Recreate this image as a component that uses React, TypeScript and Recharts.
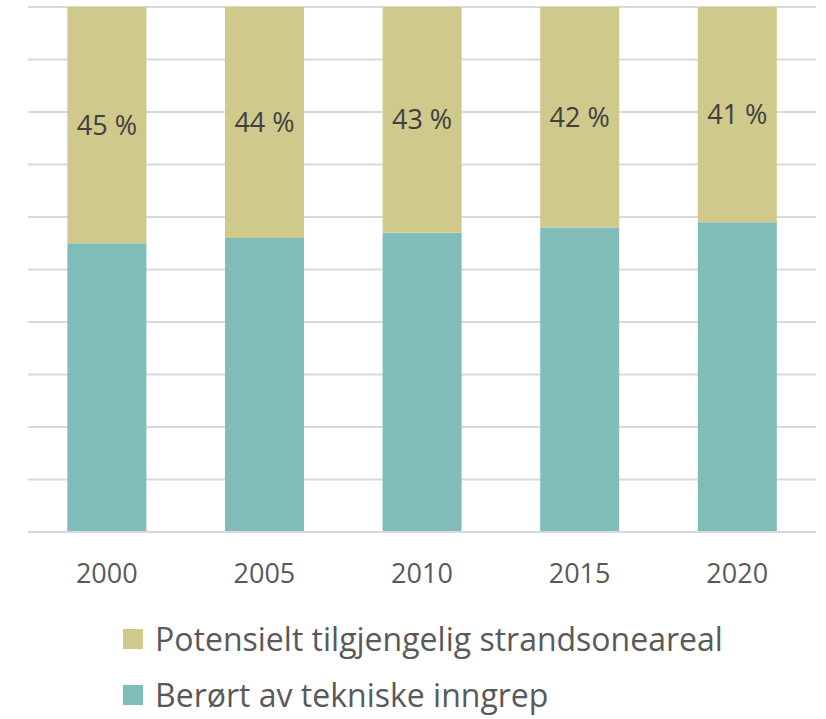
import { Bar, BarChart, CartesianGrid, LabelList, XAxis, YAxis } from 'recharts'

const years = ['2000', '2005', '2010', '2015', '2020']
const berort = [55, 56, 57, 58, 59]
const potensielt = [45, 44, 43, 42, 41]
const yTicks = [0, 10, 20, 30, 40, 50, 60, 70, 80, 90, 100]

const SERIES = [
  { key: 'potensielt', name: 'Potensielt tilgjengelig strandsoneareal', color: '#cfc98c' },
  { key: 'berort', name: 'Berørt av tekniske inngrep', color: '#80bdb9' },
]

const data = years.map((year, i) => ({ year, berort: berort[i], potensielt: potensielt[i] }))

const FONT = '"Open Sans", sans-serif'

function LegendBox() {
  return (
    <div style={{ position: 'absolute', left: 123, top: 622, fontFamily: FONT }}>
      {SERIES.map((s, i) => (
        <div
          key={s.key}
          style={{ display: 'flex', alignItems: 'center', height: 34, marginTop: i === 0 ? 0 : 22 }}
        >
          <span style={{ width: 20, height: 20, background: s.color, marginRight: 12 }} />
          <span style={{ fontSize: 32, lineHeight: '34px', color: '#595959' }}>{s.name}</span>
        </div>
      ))}
    </div>
  )
}

export default function App() {
  return (
    <div style={{ position: 'absolute', left: 0, top: 0, width: 826, height: 719, background: '#fff' }}>
      <BarChart
        width={826}
        height={719}
        data={data}
        margin={{ top: 7, right: 10, left: 28, bottom: 157 }}
        barCategoryGap="25%"
      >
        <CartesianGrid horizontal vertical={false} stroke="#d9d9d9" strokeWidth={2} />
        <YAxis hide domain={[0, 100]} ticks={yTicks} />
        <XAxis
          dataKey="year"
          axisLine={{ stroke: '#d9d9d9', strokeWidth: 2 }}
          tickLine={false}
          tickMargin={26}
          tick={{ fill: '#595959', fontSize: 27, fontFamily: FONT }}
        />
        <Bar dataKey="berort" stackId="a" fill="#80bdb9" isAnimationActive={false} />
        <Bar dataKey="potensielt" stackId="a" fill="#cfc98c" isAnimationActive={false}>
          <LabelList
            dataKey="potensielt"
            position="center"
            formatter={(v: number) => `${v} %`}
            style={{ fill: '#404040', fontSize: 27, fontFamily: FONT }}
          />
        </Bar>
      </BarChart>
      <LegendBox />
    </div>
  )
}
